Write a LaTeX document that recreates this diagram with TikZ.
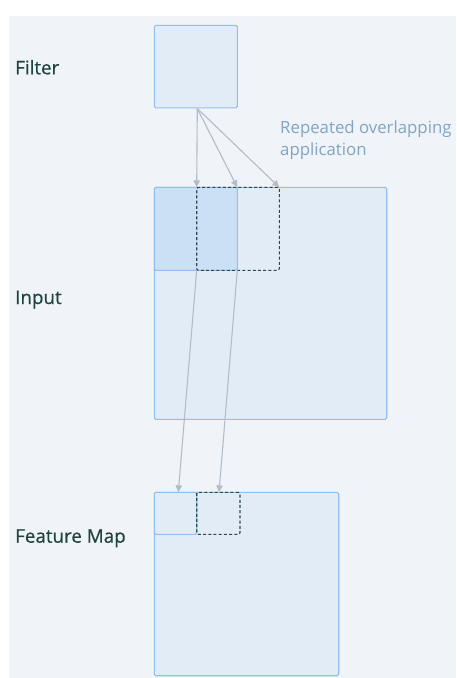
\documentclass[tikz,border=0pt]{standalone}
\usepackage{fontspec}
\setmainfont{Open Sans}
\newfontfamily\labelfont[FakeBold=0.5]{Open Sans}
\usetikzlibrary{arrows.meta}

\definecolor{canvas}{HTML}{F0F3F8}
\definecolor{boxfill}{HTML}{E2ECF7}
\definecolor{boxline}{HTML}{90C0F2}
\definecolor{hifill}{HTML}{CCE0F5}
\definecolor{winline}{HTML}{2A4A46}
\definecolor{arrowgrey}{HTML}{B2BDC9}
\definecolor{labelcol}{HTML}{1E4442}
\definecolor{notecol}{HTML}{7FA5CA}

\tikzset{
  grid/.style={draw=boxline, fill=boxfill, line width=1.1pt, rounded corners=1.5pt,
    inner sep=0pt, outer sep=0pt, anchor=north west},
  hicell/.style={grid, fill=hifill},
  window/.style={draw=winline, line width=1.1pt, dash pattern=on 3pt off 2.2pt,
    rounded corners=1.5pt, inner sep=0pt, outer sep=0pt, anchor=north west},
  flow/.style={draw=arrowgrey, line width=1.1pt,
    -{Triangle[length=7pt,width=6.5pt]}},
  label/.style={anchor=base west, inner sep=0pt, text=labelcol,
    font=\labelfont\fontsize{18.8}{22}\selectfont},
  note/.style={anchor=base west, inner sep=0pt, text=notecol,
    font=\fontsize{16.8}{22}\selectfont},
}

\begin{document}
\begin{tikzpicture}[x=1pt, y=-1pt]
  \useasboundingbox (0,0) rectangle (456,678);
  \fill[white] (0,0) rectangle (456,678);
  \fill[canvas] (9,16) rectangle (456,678);

  % filter
  \node[grid, minimum width=83pt, minimum height=82.5pt] (filter) at (154.3,25.3) {};

  % input with the first filter position and the next (dashed) position
  \node[grid, minimum width=232.4pt, minimum height=232pt] (input) at (154.3,187.3) {};
  \node[hicell, minimum width=83pt, minimum height=83pt] (cell) at (154.3,187.3) {};
  \node[window, minimum width=82.6pt, minimum height=83pt] (win) at (196.7,187.3) {};

  % feature map with its first value and the next (dashed) value
  \node[grid, minimum width=184.4pt, minimum height=183.4pt] (fmap) at (154.3,492.3) {};
  \node[grid, minimum width=42.4pt, minimum height=42pt] (fcell) at (154.3,492.3) {};
  \node[window, minimum width=43.3pt, minimum height=42pt] (fwin) at (196.7,492.3) {};

  % labels
  \node[label] (lfilter) at (15,74.3) {Filter};
  \node[label] (linput) at (15,304) {Input};
  \node[label] (lfmap) at (15,542.7) {Feature Map};
  \node[note] (note1) at (280,133) {Repeated overlapping};
  \node[note] (note2) at (280,155) {application};

  % filter slid across the input
  \coordinate (src) at (197.3,108.5);
  \draw[flow] (src) -- (win.north west);
  \draw[flow] (src) -- (cell.north east);
  \draw[flow] (src) -- (win.north east);

  % each position produces one feature-map value
  \coordinate (v1) at (178.3,492.3);
  \coordinate (v2) at (219,492.3);
  \draw[flow] (win.south west) -- (v1);
  \draw[flow] (cell.south east) -- (v2);
\end{tikzpicture}
\end{document}
